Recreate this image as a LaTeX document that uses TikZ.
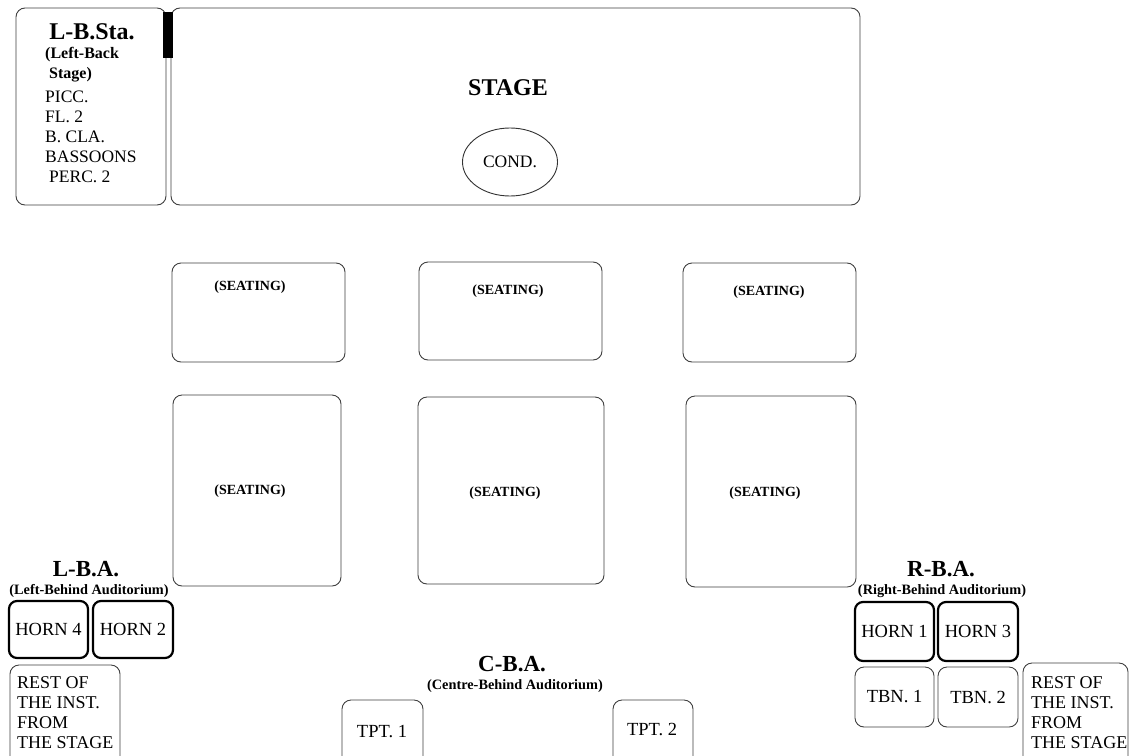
\documentclass[tikz,border=0pt]{standalone}
\usepackage{fontspec}
\setmainfont{Liberation Serif}
\usetikzlibrary{fit,shapes.geometric}
\newcommand{\fs}[1]{\fontsize{#1}{#1}\selectfont}
\tikzset{
  box/.style={draw=black!75, line width=0.9pt, rounded corners=9pt, inner sep=0pt},
  hornbox/.style={draw=black, line width=2.2pt, rounded corners=8pt, inner sep=0pt},
  lbl/.style={inner sep=0pt, text=black},
  head/.style={lbl, font=\bfseries\fs{23}},
  sub/.style={lbl, font=\bfseries\fs{14.3}},
  seat/.style={lbl, font=\bfseries\fs{14}},
  inst/.style={lbl, font=\fs{18.5}},
  multi/.style={lbl, font=\fontsize{18}{20}\selectfont, align=left, anchor=west},
}
\begin{document}
\begin{tikzpicture}[x=1pt,y=-1pt]
\useasboundingbox (0,0) rectangle (1129,755);
\clip (0,0) rectangle (1129,755);
\fill[white] (0,0) rectangle (1129,755);
% stage area
\node[box, fit={(16,8) (166,205)}] (lbsta) {};
\node[box, fit={(171,8) (860,205)}] (stage) {};
\fill[black] (163,12) rectangle (173,58);
\node[head, font=\bfseries\fs{24}] (lbstah) at (92,32) {L-B.Sta.};
\node[lbl, font=\bfseries\fontsize{16}{20}\selectfont, align=left, anchor=west] (lbstas) at (45,65) {(Left-Back\\\hspace*{4pt}Stage)};
\node[lbl, font=\fontsize{17.5}{20}\selectfont, align=left, anchor=west] (lbstal) at (45,137) {PICC.\\FL. 2\\B. CLA.\\BASSOONS\\\hspace*{4pt}PERC. 2};
\node[head, font=\bfseries\fs{24}] (stageh) at (508,88) {STAGE};
\node[draw=black!80, line width=0.9pt, ellipse, minimum width=95pt, minimum height=68pt, inner sep=0pt] (cond) at (510,162) {};
\node[lbl, font=\fs{17.5}] at (cond.center) {COND.};
% seating
\node[box, fit={(172,263) (345,362)}] (s1) {};
\node[box, fit={(419,262) (602,360)}] (s2) {};
\node[box, fit={(683,263) (856,362)}] (s3) {};
\node[box, fit={(173,395) (341,586)}] (s4) {};
\node[box, fit={(418,397) (604,584)}] (s5) {};
\node[box, fit={(686,396) (856,587)}] (s6) {};
\node[seat] at (250,287) {(SEATING)};
\node[seat] at (508,291) {(SEATING)};
\node[seat] at (769,292) {(SEATING)};
\node[seat] at (250,491) {(SEATING)};
\node[seat] at (505,493) {(SEATING)};
\node[seat] at (765,493) {(SEATING)};
% left behind auditorium
\node[head] (lbah) at (86,569) {L-B.A.};
\node[sub] (lbas) at (89,591) {(Left-Behind Auditorium)};
\node[hornbox, fit={(9,601) (88,658)}] (h4) {};
\node[hornbox, fit={(93,601) (173,658)}] (h2) {};
\node[inst] at (h4.center) {HORN 4};
\node[inst] at (h2.center) {HORN 2};
\node[box, fit={(10,665) (120,790)}] (restl) {};
\node[multi] at (17,713) {REST OF\\THE INST.\\FROM\\THE STAGE};
% centre behind auditorium
\node[head] (cbah) at (512,664) {C-B.A.};
\node[sub] (cbas) at (515,686) {(Centre-Behind Auditorium)};
\node[box, fit={(342,700) (423,790)}] (tpt1) {};
\node[box, fit={(613,700) (693,790)}] (tpt2) {};
\node[inst] at (382,732) {TPT. 1};
\node[inst] at (652,729) {TPT. 2};
% right behind auditorium
\node[head] (rbah) at (941,569) {R-B.A.};
\node[sub] (rbas) at (942,591) {(Right-Behind Auditorium)};
\node[hornbox, fit={(855,602) (934,661)}] (h1) {};
\node[hornbox, fit={(938,602) (1018,661)}] (h3) {};
\node[inst] at (h1.center) {HORN 1};
\node[inst] at (h3.center) {HORN 3};
\node[box, fit={(855,667) (934,727)}] (tbn1) {};
\node[box, fit={(938,667) (1018,727)}] (tbn2) {};
\node[inst] at (tbn1.center) {TBN. 1};
\node[inst] at (tbn2.center) {TBN. 2};
\node[box, fit={(1023,663) (1128,790)}] (restr) {};
\node[multi] at (1031,713) {REST OF\\THE INST.\\FROM\\THE STAGE};
\end{tikzpicture}
\end{document}
